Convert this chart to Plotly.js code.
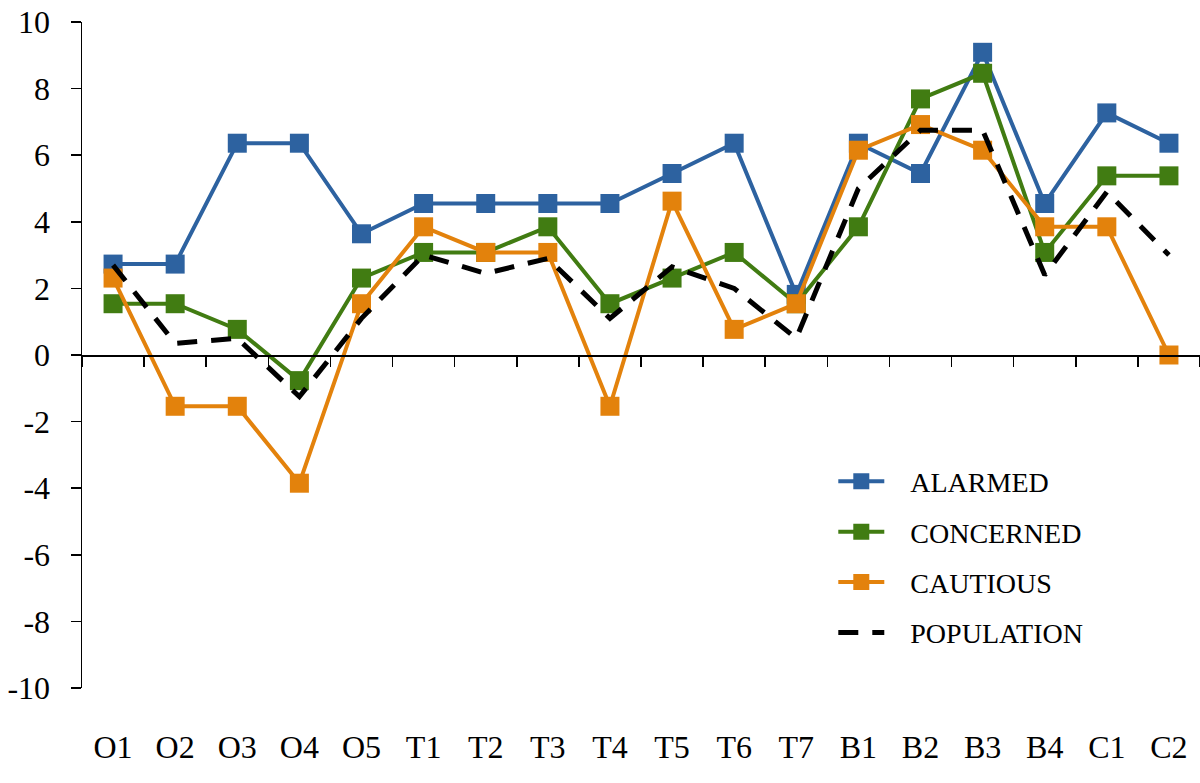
<!DOCTYPE html>
<html>
<head>
<meta charset="utf-8">
<script src="https://cdn.plot.ly/plotly-3.0.1.min.js"></script>
<style>html,body{margin:0;padding:0;background:#fff;}#chart{width:1200px;height:783px;}</style>
</head>
<body>
<div id="chart"></div>
<script>
const categories = ['O1','O2','O3','O4','O5','T1','T2','T3','T4','T5','T6','T7','B1','B2','B3','B4','C1','C2'];
const alarmed    = [2.73, 2.73, 6.36, 6.36, 3.64, 4.55, 4.55, 4.55, 4.55, 5.45, 6.36, 1.82, 6.36, 5.45, 9.09, 4.55, 7.27, 6.36];
const concerned  = [1.54, 1.54, 0.77, -0.77, 2.31, 3.08, 3.08, 3.85, 1.54, 2.31, 3.08, 1.54, 3.85, 7.69, 8.46, 3.08, 5.38, 5.38];
const cautious   = [2.31, -1.54, -1.54, -3.85, 1.54, 3.85, 3.08, 3.08, -1.54, 4.62, 0.77, 1.54, 6.15, 6.92, 6.15, 3.85, 3.85, 0.00];
const population = [2.70, 0.35, 0.50, -1.25, 1.10, 3.00, 2.45, 2.90, 1.10, 2.65, 2.00, 0.50, 5.00, 6.75, 6.75, 2.40, 4.90, 3.00];
const seriesNames = ['ALARMED','CONCERNED','CAUTIOUS','POPULATION'];
const yTickValues = [-10,-8,-6,-4,-2,0,2,4,6,8,10];
const yTickLabels = ['-10','-8','-6','-4','-2','0','2','4','6','8','10'];

const colors = ['#2D62A0', '#417C12', '#E3820C'];
const font = 'Times New Roman, Liberation Serif, DejaVu Serif, serif';
const pad = '\u00a0\u00a0\u00a0';

function lineTrace(name, values, color, group) {
  return {
    x: categories, y: values, name: pad + name, type: 'scatter', mode: 'lines+markers',
    line: {color: color, width: 4},
    marker: {symbol: 'square', size: 19, color: color},
    legendgroup: group
  };
}

const traces = [
  lineTrace(seriesNames[0], alarmed, colors[0], 'a'),
  lineTrace(seriesNames[1], concerned, colors[1], 'b'),
  lineTrace(seriesNames[2], cautious, colors[2], 'c'),
  {
    x: categories, y: population, name: pad + seriesNames[3], type: 'scatter', mode: 'lines',
    line: {color: '#000000', width: 5, dash: '20px,14px'},
    legendgroup: 'd'
  }
];

const layout = {
  width: 1200, height: 783,
  margin: {l: 82, r: 0, t: 22, b: 95},
  paper_bgcolor: '#ffffff', plot_bgcolor: '#ffffff',
  font: {family: font, size: 32, color: '#000'},
  showlegend: true,
  legend: {
    x: 0.672, y: 0.3475, xanchor: 'left', yanchor: 'top',
    font: {family: font, size: 28, color: '#000'},
    itemwidth: 46, tracegroupgap: 11, bgcolor: 'rgba(0,0,0,0)'
  },
  xaxis: {
    type: 'category', categoryarray: categories, categoryorder: 'array',
    range: [-0.5, categories.length - 0.5],
    anchor: 'free', position: 0.5,
    showline: true, linecolor: '#000', linewidth: 1.5,
    ticks: 'outside', tickson: 'boundaries', ticklen: 10, tickcolor: '#000', tickwidth: 1.5,
    showticklabels: true, ticklabelstandoff: 363,
    tickfont: {family: font, size: 32, color: '#000'},
    showgrid: false, zeroline: false, fixedrange: true
  },
  yaxis: {
    range: [-10, 10], tickmode: 'array', tickvals: yTickValues, ticktext: yTickLabels,
    showline: true, linecolor: '#000', linewidth: 1.5,
    ticks: 'outside', ticklen: 10, tickcolor: '#000', tickwidth: 1.5,
    showgrid: false, zeroline: false, ticklabelstandoff: 14,
    tickfont: {family: font, size: 32, color: '#000'}
  }
};

Plotly.newPlot('chart', traces, layout, {staticPlot: true});
</script>
</body>
</html>
